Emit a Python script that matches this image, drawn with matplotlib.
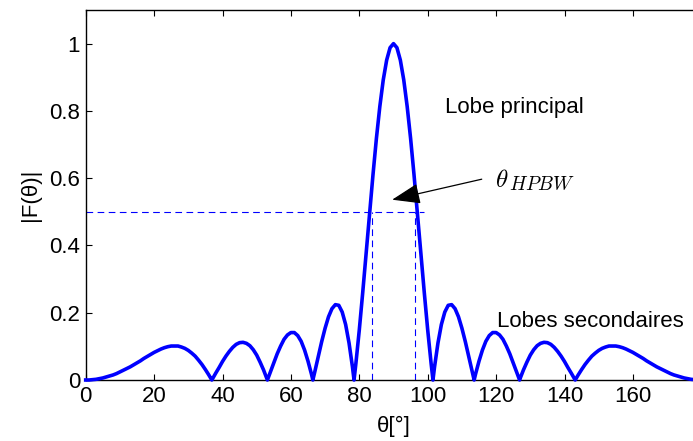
import matplotlib
matplotlib.use("Agg")
import matplotlib.pyplot as plt

plt.rcParams['font.family'] = ['Liberation Sans', 'DejaVu Sans']
plt.rcParams['mathtext.fontset'] = 'cm'

theta = [0, 1, 2, 3, 4, 5, 6, 7, 8, 9, 10, 11, 12, 13, 14, 15, 16, 17, 18, 19, 20,
         21, 22, 23, 24, 25, 26, 27, 28, 29, 30, 31, 32, 33, 34, 35, 36, 36.87, 37,
         38, 39, 40, 41, 42, 43, 44, 45, 46, 47, 48, 49, 50, 51, 52, 53, 53.13,
         54, 55, 56, 57, 58, 59, 60, 61, 62, 63, 64, 65, 66, 66.42, 67, 68, 69,
         70, 71, 72, 73, 74, 75, 76, 77, 78, 78.46, 79, 80, 81, 82, 83, 84, 85,
         86, 87, 88, 89, 90,
         91, 92, 93, 94, 95, 96, 97, 98, 99, 100, 101, 101.54, 102, 103, 104, 105,
         106, 107, 108, 109, 110, 111, 112, 113, 113.58, 114, 115, 116, 117, 118,
         119, 120, 121, 122, 123, 124, 125, 126, 126.87, 127, 128, 129, 130, 131,
         132, 133, 134, 135, 136, 137, 138, 139, 140, 141, 142, 143, 143.13, 144,
         145, 146, 147, 148, 149, 150, 151, 152, 153, 154, 155, 156, 157, 158, 159,
         160, 161, 162, 163, 164, 165, 166, 167, 168, 169, 170, 171, 172, 173, 174,
         175, 176, 177, 178, 179, 180]
F = [0.000, 0.000, 0.001, 0.002, 0.004, 0.006, 0.009, 0.012, 0.015, 0.019, 0.024,
     0.029, 0.034, 0.039, 0.045, 0.051, 0.057, 0.064, 0.070, 0.076, 0.082,
     0.087, 0.092, 0.096, 0.099, 0.101, 0.101, 0.101, 0.098, 0.094, 0.088, 0.080,
     0.071, 0.059, 0.046, 0.031, 0.015, 0.000, 0.002,
     0.020, 0.037, 0.055, 0.071, 0.085, 0.097, 0.106, 0.111, 0.112, 0.109, 0.102,
     0.090, 0.074, 0.053, 0.030, 0.004, 0.000,
     0.024, 0.051, 0.078, 0.101, 0.121, 0.134, 0.141, 0.141, 0.132, 0.115, 0.089,
     0.056, 0.018, 0.000, 0.025, 0.070, 0.114,
     0.154, 0.188, 0.212, 0.224, 0.222, 0.202, 0.165, 0.110, 0.039, 0.000, 0.049,
     0.149, 0.260, 0.377, 0.495, 0.610, 0.718,
     0.813, 0.892, 0.951, 0.988, 1.000,
     0.988, 0.951, 0.892, 0.813, 0.718, 0.610, 0.495, 0.377, 0.260, 0.149, 0.049,
     0.000, 0.039, 0.110, 0.165, 0.202,
     0.222, 0.224, 0.212, 0.188, 0.154, 0.114, 0.070, 0.025, 0.000, 0.018, 0.056,
     0.089, 0.115, 0.132,
     0.141, 0.141, 0.134, 0.121, 0.101, 0.078, 0.051, 0.024, 0.000, 0.004, 0.030,
     0.053, 0.074, 0.090,
     0.102, 0.109, 0.112, 0.111, 0.106, 0.097, 0.085, 0.071, 0.055, 0.037, 0.020,
     0.002, 0.000, 0.015,
     0.031, 0.046, 0.059, 0.071, 0.080, 0.088, 0.094, 0.098, 0.101, 0.101, 0.101,
     0.099, 0.096, 0.092, 0.087,
     0.082, 0.076, 0.070, 0.064, 0.057, 0.051, 0.045, 0.039, 0.034, 0.029, 0.024,
     0.019, 0.015, 0.012, 0.009,
     0.006, 0.004, 0.002, 0.001, 0.000, 0.000]

half_power = 0.5
hpbw_left = 83.6
hpbw_right = 96.3
hline_end = 98.9

xticks = [0, 20, 40, 60, 80, 100, 120, 140, 160]
yticks = [0, 0.2, 0.4, 0.6, 0.8, 1.0]
ytick_labels = ['0', '0.2', '0.4', '0.6', '0.8', '1']

fig = plt.figure(figsize=(6.93, 4.41), dpi=100)
ax = fig.add_axes([85.7 / 693, 61 / 441, 615.6 / 693, 370 / 441])

ax.plot(theta, F, color='#0000ff', lw=2.6, solid_joinstyle='round', clip_on=False, zorder=3)
ax.plot([0, hline_end], [half_power, half_power], color='#0000ff', lw=0.8,
        dashes=(6, 4))
ax.plot([hpbw_left, hpbw_left], [0, half_power], color='#0000ff', lw=0.8, dashes=(6, 4))
ax.plot([hpbw_right, hpbw_right], [0, half_power], color='#0000ff', lw=0.8, dashes=(6, 4))

ax.set_xlim(0, 180)
ax.set_ylim(0, 1.1)
ax.set_xticks(xticks)
ax.set_yticks(yticks)
ax.set_yticklabels(ytick_labels)
ax.tick_params(direction='in', length=4, width=0.8, labelsize=16, top=True, right=True,
               colors='black', pad=4)
for s in ax.spines.values():
    s.set_linewidth(1.0)

ax.set_xlabel('θ[°]', fontsize=16, labelpad=7)
ax.set_ylabel('|F(θ)|', fontsize=16, labelpad=6)

ax.text(105.1, 0.795, 'Lobe principal', fontsize=16, ha='left', va='baseline')
ax.text(120.2, 0.159, 'Lobes secondaires', fontsize=16, ha='left', va='baseline')
ax.text(119.6, 0.574, r'$\theta$', fontsize=18, ha='left', va='baseline')
ax.text(123.7, 0.566, r'$HPBW$', fontsize=14, ha='left', va='baseline')
ax.annotate('', xy=(89.6, 0.536), xytext=(115.8, 0.597),
            arrowprops=dict(arrowstyle='-|>,head_length=1.1,head_width=0.4',
                            mutation_scale=16, color='black', lw=0.9,
                            shrinkA=0, shrinkB=0))

fig.savefig('out.png', dpi=100)
